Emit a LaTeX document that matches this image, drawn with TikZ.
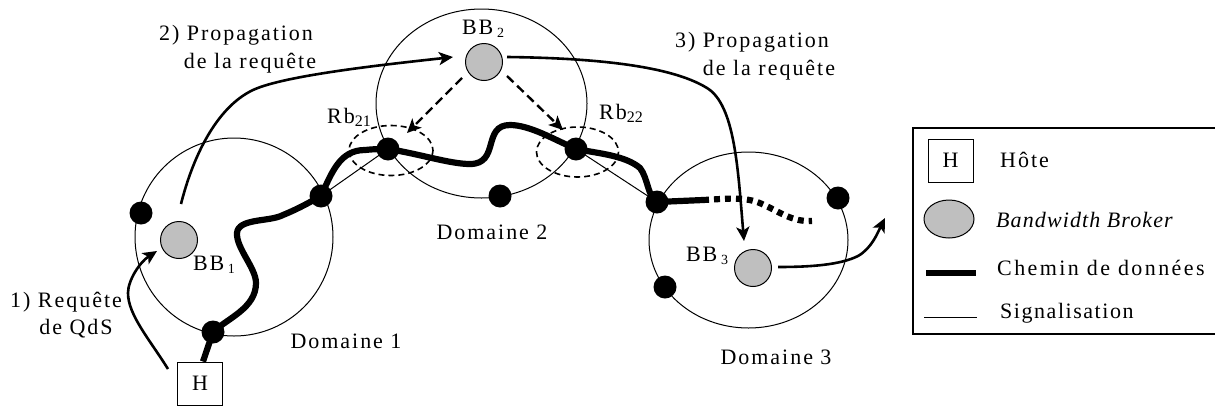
\documentclass[tikz,border=0pt]{standalone}
\usepackage{fontspec}
\setmainfont{Liberation Serif}[LetterSpace=9]
\usetikzlibrary{arrows.meta}
\newcommand{\subs}[1]{\,\raisebox{-.3ex}{\fontsize{14}{14}\selectfont #1}}
\newcommand{\subt}[1]{\raisebox{-.3ex}{\fontsize{16}{16}\selectfont\addfontfeature{LetterSpace=0}#1}}
\tikzset{
 x=1pt,y=-1pt,
 every node/.style={font=\fontsize{22}{26}\selectfont,inner sep=0pt},
 domring/.style={draw,line width=1pt},
 dot/.style={circle,fill=black,minimum size=23pt,inner sep=0pt},
 broker/.style={circle,draw,fill=black!25,line width=1pt,minimum size=37pt},
 hbox/.style={draw,line width=1pt,minimum width=45pt,minimum height=43pt},
 datapath/.style={line width=6.2pt},
 thinlink/.style={line width=1pt},
 arr/.style={line width=2.6pt,-{Stealth[length=14pt,width=13pt,inset=3.5pt]}},
 dasharr/.style={line width=2.4pt,dash pattern=on 9pt off 5pt,-{Stealth[length=14pt,width=13pt,inset=3.5pt]}},
 zone/.style={draw,line width=1.6pt,dash pattern=on 6pt off 4pt},
}
\begin{document}
\begin{tikzpicture}
\useasboundingbox (0,0) rectangle (1215,405);
% domains
\draw[domring] (234,237) ellipse [x radius=99,y radius=99];
\draw[domring] (481.5,103.5) ellipse [x radius=105.5,y radius=94.5];
\draw[domring] (748.5,240) ellipse [x radius=99.5,y radius=88];
\draw[zone] (391,150.5) ellipse [x radius=42,y radius=25];
\draw[zone] (577.5,152) ellipse [x radius=41,y radius=25];
% nodes
\node[dot] (d1a) at (141,213) {};
\node[dot] (d1b) at (213,332) {};
\node[dot] (d1c) at (321,196) {};
\node[dot] (d2a) at (388,149) {};
\node[dot] (d2b) at (500,196) {};
\node[dot] (d2c) at (576,149) {};
\node[dot] (d3a) at (657,202) {};
\node[dot] (d3b) at (838,198) {};
\node[dot] (d3c) at (665,287) {};
\node[broker] (bb1) at (179,240) {};
\node[broker] (bb2) at (484,62) {};
\node[broker] (bb3) at (753,268) {};
\node[hbox] (h) at (200,383.5) {H};
% signalling
\draw[thinlink] (d1c.center) -- (d2a.center);
\draw[thinlink] (d2c.center) -- (d3a.center);
% data path
\draw[datapath] (h.north) ++(3,0) -- (d1b.center);
\draw[datapath,line join=round] (d1b.center)
 .. controls (228,318) and (256,308) .. (256,283)
 .. controls (256,268) and (236,248) .. (237,233)
 .. controls (238,218) and (270,222) .. (283,215)
 .. controls (300,208) and (310,202) .. (d1c.center);
\draw[datapath] (d1c.center)
 .. controls (332,172) and (340,150) .. (365,150)
 .. controls (375,149) and (380,149) .. (d2a.center)
 .. controls (420,154) and (450,164) .. (470,164)
 .. controls (500,164) and (482,125) .. (510,125)
 .. controls (530,125) and (555,140) .. (d2c.center)
 .. controls (595,153) and (625,155) .. (640,168)
 .. controls (648,178) and (648,198) .. (d3a.center)
 -- (703,200);
\draw[line width=6.2pt,dash pattern=on 6pt off 5pt] (703,200) .. controls (725,199) and (745,196) .. (762,204)
 .. controls (780,212) and (792,222) .. (812,221);
% signalling arrows
\draw[arr] (168,369) .. controls (150,340) and (128,315) .. (128,293) .. controls (128,280) and (140,262) .. (157,251);
\draw[arr] (181,204) .. controls (192,160) and (215,108) .. (253,90) .. controls (285,75) and (390,64) .. (453,57);
\draw[arr] (507,57) .. controls (590,58) and (670,65) .. (707,88) .. controls (735,105) and (738,170) .. (744,241);
\draw[arr] (778,267) .. controls (810,267) and (840,265) .. (858,256) .. controls (872,248) and (878,232) .. (885,218);
\draw[dasharr] (462,78) -- (407,133);
\draw[dasharr] (507,76) -- (563,130);
% labels
\node at (236,35) {2) Propagation};
\node at (250,63) {de la requête};
\node at (752,42) {3) Propagation};
\node at (769,70) {de la requête};
\node at (66,302) {1) Requête};
\node at (76,329) {de QdS};
\node at (346,341) {Domaine 1};
\node at (492,232) {Domaine 2};
\node at (776,357) {Domaine 3};
\node at (214,265) {BB\subs{1}};
\node at (483,29) {BB\subs{2}};
\node at (707,256) {BB\subs{3}};
\node at (349,117) {Rb\subt{21}};
\node at (621,113) {Rb\subt{22}};
% legend
\node[draw,line width=1.6pt,minimum width=310pt,minimum height=206pt,anchor=north west] (legend) at (912,127) {};
\node[draw,line width=1pt,minimum width=45pt,minimum height=43pt] (lh) at (950.5,160.5) {H};
\node[anchor=west] (lhost) at (1000,160) {Hôte};
\draw[fill=black!25,line width=1pt] (949,219) ellipse [x radius=25,y radius=19];
\node[anchor=west] (lbb) at (996,220) {\itshape\addfontfeature{LetterSpace=5}Bandwidth Broker};
\coordinate (c1) at (926,273); \coordinate (c2) at (976,273);
\draw[line width=6pt] (c1) -- (c2);
\node[anchor=west] (lch) at (997,268) {\addfontfeature{LetterSpace=11}Chemin de données};
\coordinate (s1) at (924,317); \coordinate (s2) at (977,317);
\draw[line width=1pt] (s1) -- (s2);
\node[anchor=west] (lsig) at (1000,313) {\addfontfeature{LetterSpace=7}Signalisation};
\end{tikzpicture}
\end{document}
